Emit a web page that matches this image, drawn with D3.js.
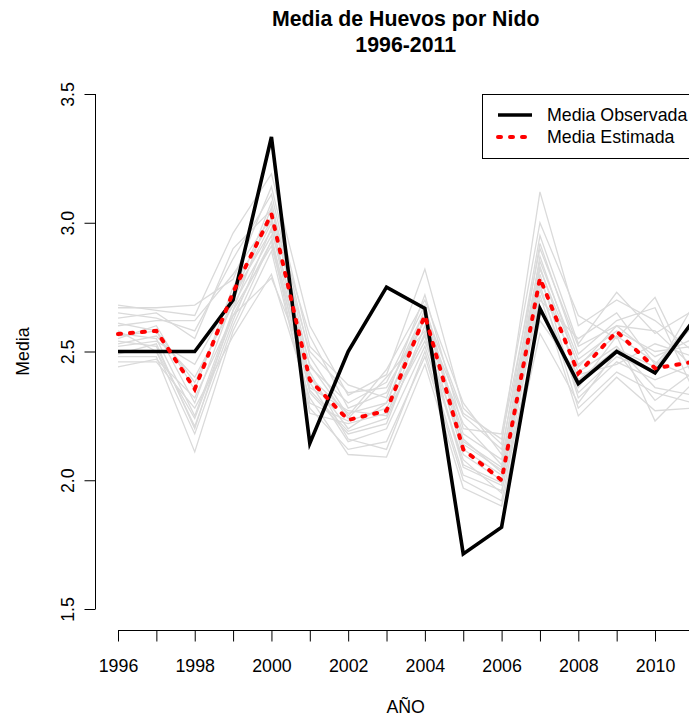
<!doctype html>
<html>
  <head>
    <script src="https://cdnjs.cloudflare.com/ajax/libs/d3/7.8.5/d3.min.js"></script>
    <style>
      body { margin: 0; background: #fff; }
      svg { display: block; font-family: "Liberation Sans", Arial, sans-serif; }
    </style>
  </head>
  <body>
    <svg width="689" height="719"></svg>
    <script>
      var years = d3.range(1996, 2012);
      var yTicks = [1.5, 2.0, 2.5, 3.0, 3.5];

      var observada = [2.5, 2.5, 2.5, 2.7, 3.333, 2.143, 2.5, 2.75, 2.667, 1.714, 1.818, 2.667, 2.375, 2.5, 2.417, 2.62];
      var estimada = [2.568, 2.58, 2.354, 2.73, 3.034, 2.39, 2.234, 2.27, 2.64, 2.12, 2.0, 2.785, 2.415, 2.578, 2.435, 2.46];

      // simulated means (grey)
      var simuladas = [
        [2.68,2.66,2.64,2.96,3.19,2.60,2.33,2.41,2.82,2.28,2.14,3.12,2.60,2.70,2.62,2.50],
        [2.67,2.67,2.68,2.78,3.14,2.52,2.37,2.32,2.72,2.20,2.18,3.00,2.64,2.55,2.71,2.40],
        [2.65,2.63,2.58,2.86,3.11,2.48,2.25,2.43,2.70,2.30,2.10,2.95,2.53,2.73,2.57,2.66],
        [2.61,2.58,2.30,2.70,3.08,2.44,2.30,2.38,2.68,2.15,2.05,2.92,2.49,2.62,2.67,2.35],
        [2.57,2.55,2.25,2.66,3.06,2.40,2.20,2.30,2.66,2.12,2.02,2.87,2.44,2.60,2.48,2.55],
        [2.55,2.60,2.35,2.75,3.01,2.36,2.27,2.25,2.64,2.18,2.08,2.83,2.39,2.51,2.44,2.60],
        [2.54,2.52,2.21,2.62,2.98,2.34,2.18,2.22,2.60,2.10,2.00,2.80,2.32,2.46,2.39,2.45],
        [2.53,2.56,2.40,2.68,2.95,2.30,2.23,2.28,2.56,2.05,1.98,2.76,2.28,2.42,2.34,2.30],
        [2.50,2.50,2.18,2.60,2.93,2.38,2.15,2.20,2.52,2.08,1.95,2.72,2.25,2.40,2.27,2.28],
        [2.48,2.48,2.11,2.58,2.89,2.28,2.12,2.15,2.48,2.00,1.92,2.66,2.36,2.56,2.23,2.38],
        [2.46,2.46,2.28,2.56,2.80,2.32,2.10,2.09,2.45,1.97,1.90,2.57,2.30,2.50,2.31,2.42],
        [2.44,2.47,2.32,2.64,2.785,2.42,2.16,2.12,2.50,2.02,1.96,2.62,2.41,2.45,2.53,2.48],
        [2.60,2.62,2.62,2.80,3.02,2.50,2.34,2.36,2.62,2.25,2.12,2.85,2.47,2.58,2.50,2.52],
        [2.52,2.54,2.45,2.72,2.97,2.45,2.24,2.40,2.58,2.22,2.06,2.70,2.55,2.65,2.45,2.62],
        [2.58,2.50,2.24,2.64,2.93,2.26,2.22,2.26,2.54,2.14,2.04,2.78,2.42,2.52,2.36,2.33],
        [2.63,2.65,2.55,2.90,3.05,2.56,2.28,2.34,2.66,2.26,2.16,2.90,2.52,2.60,2.58,2.44],
        [2.49,2.53,2.20,2.66,2.91,2.35,2.19,2.24,2.57,2.06,1.99,2.74,2.34,2.48,2.42,2.68],
        [2.56,2.58,2.38,2.70,3.00,2.40,2.26,2.30,2.63,2.16,2.03,2.82,2.45,2.56,2.46,2.40]
      ];

      var svg = d3.select("svg");
      var fs = 17.8;

      // R style plot region: data range widened by 4%
      var x = d3.scaleLinear().domain([1995.4, 2011.6]).range([95, 716.4]);
      var y = d3.scaleLinear().domain([1.42, 3.58]).range([629.6, 73.4]);

      svg.append("defs").append("clipPath").attr("id", "plotclip")
        .append("rect").attr("x", 95).attr("y", 73.4).attr("width", 621.4).attr("height", 556.2);

      var line = d3.line().x((d, i) => x(years[i])).y(d => y(d));
      var plot = svg.append("g").attr("clip-path", "url(#plotclip)");

      plot.selectAll("path.sim")
        .data(simuladas)
        .enter()
        .append("path")
          .attr("class", "sim")
          .attr("d", line)
          .attr("fill", "none")
          .attr("stroke", "#dadada")
          .attr("stroke-width", 1.3);

      plot.append("path")
        .attr("d", line(observada))
        .attr("fill", "none")
        .attr("stroke", "#000")
        .attr("stroke-width", 3.6)
        .attr("stroke-linejoin", "miter");

      plot.append("path")
        .attr("d", line(estimada))
        .attr("fill", "none")
        .attr("stroke", "#ff0000")
        .attr("stroke-width", 4)
        .attr("stroke-linecap", "round")
        .attr("stroke-dasharray", "3,9");

      // x axis
      var xAxis = svg.append("g")
        .attr("transform", "translate(0,630.5)")
        .call(d3.axisBottom(x).tickValues(years).tickSize(11).tickPadding(18)
          .tickFormat(d => d % 2 === 0 ? d : ""));
      xAxis.select(".domain").remove();
      xAxis.append("line")
        .attr("x1", x(1996)).attr("x2", x(2011))
        .attr("stroke", "#000");
      xAxis.selectAll("text").attr("font-size", fs).attr("fill", "#000").attr("font-family", null);

      // y axis
      var yAxis = svg.append("g")
        .attr("transform", "translate(95.5,0)")
        .call(d3.axisLeft(y).tickValues(yTicks).tickSize(11).tickFormat(d3.format(".1f")));
      yAxis.select(".domain").remove();
      yAxis.append("line")
        .attr("y1", y(1.5)).attr("y2", y(3.5))
        .attr("stroke", "#000");
      yAxis.selectAll("text")
        .attr("font-size", fs).attr("fill", "#000").attr("font-family", null)
        .attr("x", null).attr("dy", null)
        .attr("text-anchor", "middle")
        .attr("transform", "translate(-22,0) rotate(-90)");

      // titles
      svg.append("text").attr("x", 405.7).attr("y", 26).attr("text-anchor", "middle")
        .attr("font-size", 21.3).attr("font-weight", "bold").text("Media de Huevos por Nido");
      svg.append("text").attr("x", 405.7).attr("y", 52).attr("text-anchor", "middle")
        .attr("font-size", 21.3).attr("font-weight", "bold").text("1996-2011");
      svg.append("text").attr("x", 405.7).attr("y", 713).attr("text-anchor", "middle")
        .attr("font-size", fs).text("AÑO");
      svg.append("text").attr("transform", "translate(29," + y(2.5) + ") rotate(-90)")
        .attr("text-anchor", "middle").attr("font-size", fs).text("Media");

      // legend
      var legend = svg.append("g");
      legend.append("rect")
        .attr("x", 482.5).attr("y", 94.5).attr("width", 240).attr("height", 64)
        .attr("fill", "#fff").attr("stroke", "#000").attr("stroke-width", 1);
      var items = [
        {label: "Media Observada", color: "#000", dash: null, cap: "butt"},
        {label: "Media Estimada", color: "#ff0000", dash: "3,9", cap: "round"}
      ];
      items.forEach(function(d, i) {
        var cy = 115 + i * 22;
        legend.append("line")
          .attr("x1", 498).attr("x2", 532).attr("y1", cy).attr("y2", cy)
          .attr("stroke", d.color).attr("stroke-width", i ? 4 : 3.6)
          .attr("stroke-linecap", d.cap)
          .attr("stroke-dasharray", d.dash);
        legend.append("text").attr("x", 547).attr("y", cy + 6.3)
          .attr("font-size", fs).text(d.label);
      });
    </script>
  </body>
</html>
